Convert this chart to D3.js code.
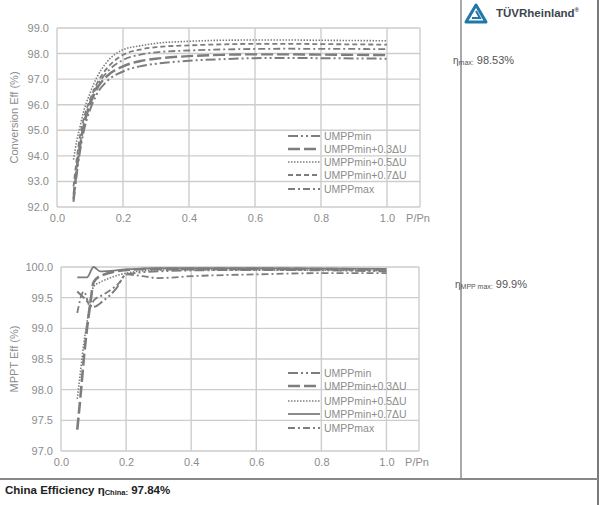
<!DOCTYPE html>
<html><head><meta charset="utf-8">
<script src="https://cdn.jsdelivr.net/npm/d3@7"></script>
<style>
html,body{margin:0;padding:0;background:#fff;}
svg{display:block;font-family:"Liberation Sans",Arial,sans-serif;}
</style></head>
<body>
<svg id="c" width="600" height="505"></svg>
<script>
// ---------------- DATA ----------------
const seriesNames = ["UMPPmin","UMPPmin+0.3\u0394U","UMPPmin+0.5\u0394U","UMPPmin+0.7\u0394U","UMPPmax"];
const xTicks = [0.0,0.2,0.4,0.6,0.8,1.0];
const convTicks = [92,93,94,95,96,97,98,99];
const mpptTicks = [97.0,97.5,98.0,98.5,99.0,99.5,100.0];

// Conversion efficiency (P/Pn, %)
const convMin  = [[0.05,92.2],[0.06,93.3],[0.07,94.2],[0.08,94.9],[0.1,95.8],[0.12,96.4],[0.15,96.9],[0.2,97.3],[0.25,97.5],[0.3,97.6],[0.4,97.72],[0.5,97.78],[0.6,97.82],[0.7,97.83],[0.8,97.82],[0.9,97.81],[1.0,97.8]];
const conv03   = [[0.05,92.3],[0.06,93.5],[0.07,94.4],[0.08,95.1],[0.1,96.0],[0.12,96.6],[0.15,97.1],[0.2,97.5],[0.25,97.7],[0.3,97.8],[0.4,97.9],[0.5,97.95],[0.6,97.97],[0.7,97.97],[0.8,97.96],[0.9,97.95],[1.0,97.94]];
const conv05   = [[0.05,93.85],[0.06,94.6],[0.07,95.15],[0.08,95.7],[0.1,96.45],[0.12,97.05],[0.15,97.65],[0.2,98.15],[0.25,98.3],[0.3,98.4],[0.4,98.48],[0.5,98.52],[0.6,98.53],[0.7,98.53],[0.8,98.52],[0.9,98.51],[1.0,98.5]];
const conv07   = [[0.05,92.8],[0.06,93.9],[0.07,94.8],[0.08,95.4],[0.1,96.2],[0.12,96.8],[0.15,97.4],[0.2,97.95],[0.25,98.15],[0.3,98.25],[0.4,98.32],[0.5,98.36],[0.6,98.38],[0.7,98.38],[0.8,98.37],[0.9,98.36],[1.0,98.35]];
const convMax  = [[0.05,92.5],[0.06,93.6],[0.07,94.5],[0.08,95.2],[0.1,96.1],[0.12,96.7],[0.15,97.25],[0.2,97.75],[0.25,97.95],[0.3,98.05],[0.4,98.12],[0.5,98.16],[0.6,98.18],[0.7,98.19],[0.8,98.18],[0.9,98.18],[1.0,98.17]];

// MPPT efficiency (P/Pn, %)
const mpptMin  = [[0.05,99.6],[0.07,99.5],[0.1,99.35],[0.13,99.45],[0.17,99.65],[0.2,99.88],[0.3,99.93],[0.5,99.95],[0.7,99.95],[0.9,99.94],[1.0,99.93]];
const mppt03   = [[0.05,97.35],[0.06,97.9],[0.07,98.5],[0.08,99.0],[0.09,99.4],[0.1,99.75],[0.12,99.85],[0.2,99.95],[0.3,99.97],[0.6,99.97],[1.0,99.96]];
const mppt05   = [[0.05,97.85],[0.06,98.3],[0.07,98.75],[0.08,99.1],[0.09,99.45],[0.1,99.68],[0.12,99.75],[0.15,99.82],[0.2,99.9],[0.3,99.95],[0.6,99.95],[1.0,99.94]];
const mppt07   = [[0.05,99.83],[0.08,99.83],[0.1,100.0],[0.12,99.93],[0.2,99.96],[0.3,99.98],[0.6,99.98],[1.0,99.97]];
const mpptMax  = [[0.05,99.25],[0.07,99.6],[0.09,99.35],[0.1,99.45],[0.13,99.55],[0.18,99.75],[0.2,99.88],[0.25,99.85],[0.3,99.82],[0.4,99.85],[0.6,99.88],[0.8,99.9],[1.0,99.9]];

const convSeries = [convMin, conv03, conv05, conv07, convMax];
const mpptSeries = [mpptMin, mppt03, mppt05, mppt07, mpptMax];

// ---------------- STYLES ----------------
const lineColor = "#7d7d7d";
const convStyles = [
  {dash:"10,3,2,3,2,3", w:2},
  {dash:"12,4", w:2.4},
  {dash:"1.5,1.5", w:1.6},
  {dash:"5,3", w:1.8},
  {dash:"7,3,2,3", w:1.8}
];
const mpptStyles = [
  {dash:"10,3,2,3,2,3", w:2},
  {dash:"12,4", w:2.6},
  {dash:"1.5,1.5", w:1.6},
  {dash:null, w:1.8},
  {dash:"7,3,2,3", w:1.8}
];

const svg = d3.select("#c");
const gridColor = "#cdcdcd";
const textColor = "#8c8c8c";

function drawChart(cfg){
  const x = d3.scaleLinear().domain([0,1.1]).range([cfg.x0, cfg.x1]);
  const y = d3.scaleLinear().domain(cfg.yDomain).range([cfg.y1, cfg.y0]);
  const g = svg.append("g");
  // horizontal grid
  g.selectAll("line.h").data(cfg.yTicks).join("line")
    .attr("x1", cfg.x0).attr("x2", cfg.x1)
    .attr("y1", d=>y(d)).attr("y2", d=>y(d))
    .attr("stroke", gridColor).attr("stroke-width",1.4);
  // vertical grid
  g.selectAll("line.v").data(xTicks.concat([1.1])).join("line")
    .attr("x1", d=>x(d)).attr("x2", d=>x(d))
    .attr("y1", cfg.y0).attr("y2", cfg.y1)
    .attr("stroke", gridColor).attr("stroke-width",1.4);
  // axes (labels only)
  const ax = g.append("g").attr("transform",`translate(0,${cfg.y1})`)
    .call(d3.axisBottom(x).tickValues(xTicks).tickFormat(d3.format(".1f")).tickSize(0).tickPadding(7));
  ax.select(".domain").remove();
  ax.selectAll("text").attr("fill",textColor).attr("font-size",11).attr("font-family","Liberation Sans, Arial");
  const ay = g.append("g").attr("transform",`translate(${cfg.x0},0)`)
    .call(d3.axisLeft(y).tickValues(cfg.yTicks).tickFormat(d3.format(".1f")).tickSize(0).tickPadding(8));
  ay.select(".domain").remove();
  ay.selectAll("text").attr("fill",textColor).attr("font-size",11).attr("font-family","Liberation Sans, Arial");
  // axis titles
  g.append("text").attr("transform",`translate(${cfg.titleX},${(cfg.y0+cfg.y1)/2}) rotate(-90)`)
    .attr("text-anchor","middle").attr("dy","0.35em").attr("fill",textColor).attr("font-size",11).text(cfg.title);
  g.append("text").attr("x", cfg.x1-2).attr("y", cfg.y1+7).attr("dy","0.71em")
    .attr("text-anchor","middle").attr("fill",textColor).attr("font-size",11).text("P/Pn");
  // lines
  const line = d3.line().x(d=>x(d[0])).y(d=>y(d[1])).curve(d3.curveMonotoneX);
  cfg.series.forEach((s,i)=>{
    g.append("path").datum(s).attr("d", line).attr("fill","none")
      .attr("stroke", lineColor).attr("stroke-width", cfg.styles[i].w)
      .attr("stroke-dasharray", cfg.styles[i].dash);
  });
  // legend
  const lg = g.append("g");
  seriesNames.forEach((n,i)=>{
    const ly = cfg.legendY[i];
    lg.append("line").attr("x1",288).attr("x2",320).attr("y1",ly).attr("y2",ly)
      .attr("stroke",lineColor).attr("stroke-width",cfg.styles[i].w).attr("stroke-dasharray",cfg.styles[i].dash);
    lg.append("text").attr("x",324).attr("y",ly).attr("dy","0.35em").attr("fill",textColor)
      .attr("font-size",10.5).text(n);
  });
}

drawChart({x0:57, x1:420, y0:28, y1:207, yDomain:[92,99], yTicks:convTicks,
  title:"Conversion Eff (%)", titleX:14, series:convSeries, styles:convStyles,
  legendY:[136,149,162,175,189]});
drawChart({x0:61, x1:419, y0:267, y1:451, yDomain:[97,100], yTicks:mpptTicks,
  title:"MPPT Eff (%)", titleX:14, series:mpptSeries, styles:mpptStyles,
  legendY:[373,386,401,414,428]});

// ---------------- FRAME ----------------
svg.append("line").attr("x1",461).attr("x2",461).attr("y1",0).attr("y2",479).attr("stroke","#555").attr("stroke-width",1);
svg.append("line").attr("x1",598).attr("x2",598).attr("y1",0).attr("y2",505).attr("stroke","#222").attr("stroke-width",1.2);
svg.append("line").attr("x1",0).attr("x2",598).attr("y1",479).attr("y2",479).attr("stroke","#888").attr("stroke-width",2);

// ---------------- TÜV logo ----------------
const logo = svg.append("g").attr("transform","translate(466,4)");
logo.append("path").attr("d","M10,1 L20,18 L0,18 Z").attr("fill","none").attr("stroke","#1f78a8").attr("stroke-width",3).attr("stroke-linejoin","round");
logo.append("path").attr("d","M10,7 L14,14 L6,14").attr("fill","none").attr("stroke","#1f78a8").attr("stroke-width",2);
const lt = svg.append("text").attr("x",496).attr("y",17).attr("font-size",11.5).attr("font-weight","bold").attr("fill","#3b4650");
lt.append("tspan").text("T\u00dcV");
lt.append("tspan").text("Rheinland");
lt.append("tspan").attr("font-size",6).attr("dy",-5).text("\u00ae");

// ---------------- annotations ----------------
const t1 = svg.append("text").attr("x",453).attr("y",64).attr("fill","#555").attr("font-size",11);
t1.append("tspan").attr("font-size",10).text("\u03b7");
t1.append("tspan").attr("font-size",7).attr("dy",1).text("max:");
t1.append("tspan").attr("dy",-1).text(" 98.53%");

const t2 = svg.append("text").attr("x",455).attr("y",288).attr("fill","#555").attr("font-size",11);
t2.append("tspan").attr("font-size",10).text("\u03b7");
t2.append("tspan").attr("font-size",7).attr("dy",1).text("MPP max:");
t2.append("tspan").attr("dy",-1).text(" 99.9%");

const t3 = svg.append("text").attr("x",5).attr("y",494).attr("fill","#222").attr("font-size",11.5).attr("font-weight","bold");
t3.append("tspan").text("China Efficiency \u03b7");
t3.append("tspan").attr("font-size",7.5).attr("dy",1).text("China:");
t3.append("tspan").attr("dy",-1).text(" 97.84%");
</script>
</body></html>
